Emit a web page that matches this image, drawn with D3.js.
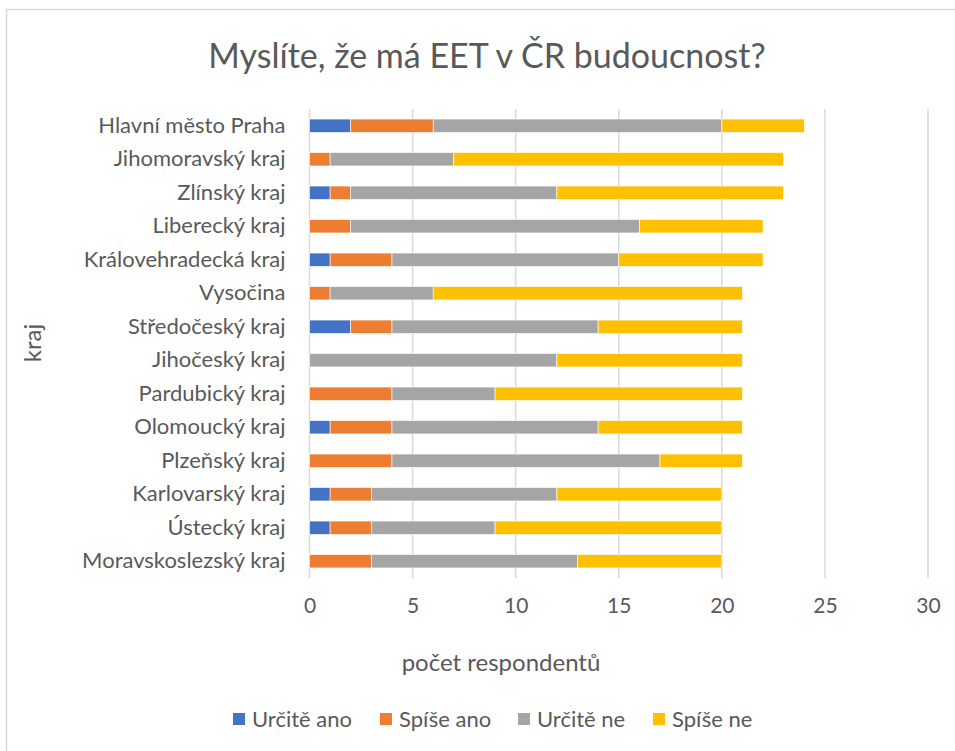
<!DOCTYPE html>
<html>
<head>
<meta charset="utf-8">
<script src="https://cdn.jsdelivr.net/npm/d3@7"></script>
<style>
  body { margin: 0; background: #fff; }
  text { font-family: Lato, "Open Sans", sans-serif; fill: #595959; }
</style>
</head>
<body>
<div id="chart"></div>
<script>
const kraje = ["Hlavní město Praha", "Jihomoravský kraj", "Zlínský kraj", "Liberecký kraj",
  "Královehradecká kraj", "Vysočina", "Středočeský kraj", "Jihočeský kraj", "Pardubický kraj",
  "Olomoucký kraj", "Plzeňský kraj", "Karlovarský kraj", "Ústecký kraj", "Moravskoslezský kraj"];
const odpovedi = ["Určitě ano", "Spíše ano", "Určitě ne", "Spíše ne"];
const barvy = ["#4472c4", "#ed7d31", "#a5a5a5", "#ffc000"];

const urciteAno = [2, 0, 1, 0, 1, 0, 2, 0, 0, 1, 0, 1, 1, 0];
const spiseAno  = [4, 1, 1, 2, 3, 1, 2, 0, 4, 3, 4, 2, 2, 3];
const urciteNe  = [14, 6, 10, 14, 11, 5, 10, 12, 5, 10, 13, 9, 6, 10];
const spiseNe   = [4, 16, 11, 6, 7, 15, 7, 9, 12, 7, 4, 8, 11, 7];
const xTicks = [0, 5, 10, 15, 20, 25, 30];

const rows = kraje.map((k, i) => ({
  kraj: k,
  "Určitě ano": urciteAno[i], "Spíše ano": spiseAno[i],
  "Určitě ne": urciteNe[i], "Spíše ne": spiseNe[i]
}));

const W = 955, H = 751;
const margin = { top: 109, right: 27, bottom: 173, left: 309.5 },
  width = W - margin.left - margin.right,
  height = H - margin.top - margin.bottom;

const svg = d3.select("#chart").append("svg")
  .attr("width", W).attr("height", H);

// chart border
svg.append("rect")
  .attr("x", 6.5).attr("y", 9.5)
  .attr("width", W + 10).attr("height", H + 10)
  .attr("fill", "none").attr("stroke", "#d9d9d9").attr("stroke-width", 1.5);

svg.append("text")
  .attr("x", 487).attr("y", 68)
  .attr("text-anchor", "middle")
  .style("font-size", "34px")
  .text("Myslíte, že má EET v ČR budoucnost?");

const g = svg.append("g")
  .attr("transform", "translate(" + margin.left + "," + margin.top + ")");

const x = d3.scaleLinear().domain([0, 30]).range([0, width]);
const y = d3.scaleBand().domain(kraje).range([0, height]).paddingInner(0.6).paddingOuter(0.3);

// gridlines
g.selectAll(".grid").data(xTicks).enter().append("line")
  .attr("x1", d => x(d)).attr("x2", d => x(d))
  .attr("y1", 0).attr("y2", height)
  .attr("stroke", "#d9d9d9").attr("stroke-width", 1.5);

const stack = d3.stack().keys(odpovedi)(rows);

g.selectAll(".serie").data(stack).enter().append("g")
  .attr("fill", (d, i) => barvy[i])
  .selectAll("rect").data(d => d).enter().append("rect")
  .attr("x", d => x(d[0]))
  .attr("width", d => x(d[1]) - x(d[0]))
  .attr("y", d => y(d.data.kraj))
  .attr("height", y.bandwidth())
  .attr("stroke", "#fff").attr("stroke-width", 0.6);

// x axis labels
const xAxis = g.append("g")
  .attr("transform", "translate(0," + height + ")")
  .call(d3.axisBottom(x).tickValues(xTicks).tickSize(0).tickPadding(20));
xAxis.select(".domain").remove();
xAxis.selectAll("text").style("font-size", "21px").style("font-family", "Lato, sans-serif").attr("fill", "#595959");

// y axis labels
const yAxis = g.append("g")
  .call(d3.axisLeft(y).tickSize(0).tickPadding(24));
yAxis.select(".domain").remove();
yAxis.selectAll("text").style("font-size", "22px").style("font-family", "Lato, sans-serif").attr("fill", "#595959");

svg.append("text")
  .attr("x", 501).attr("y", 671)
  .attr("text-anchor", "middle")
  .style("font-size", "24px")
  .text("počet respondentů");

svg.append("text")
  .attr("transform", "translate(41,343) rotate(-90)")
  .attr("text-anchor", "middle")
  .style("font-size", "24px")
  .text("kraj");

// legend
const legendX = [233, 380, 518, 653];
const legend = svg.append("g");
odpovedi.forEach((o, i) => {
  legend.append("rect")
    .attr("x", legendX[i]).attr("y", 713)
    .attr("width", 12).attr("height", 12)
    .attr("fill", barvy[i]);
  legend.append("text")
    .attr("x", legendX[i] + 19).attr("y", 727)
    .style("font-size", "22px")
    .text(o);
});
</script>
</body>
</html>
